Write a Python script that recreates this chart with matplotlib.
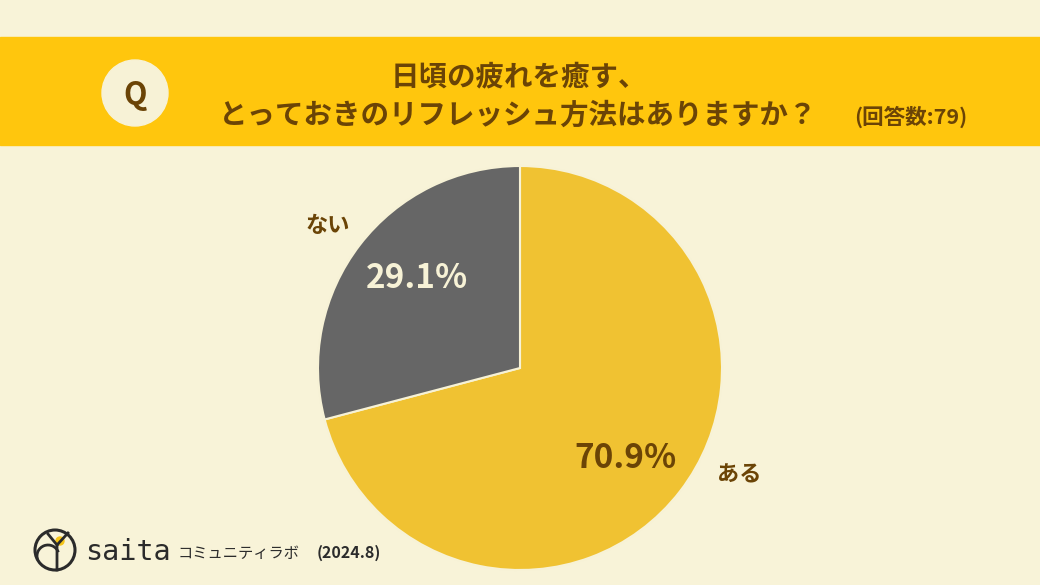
import matplotlib
matplotlib.use("Agg")
import matplotlib.pyplot as plt
from matplotlib.patches import Rectangle, Circle, Arc

plt.rcParams['font.family'] = ['Noto Sans CJK JP', 'DejaVu Sans']

labels = ["ある", "ない"]
values = [70.9, 29.1]
pct_labels = ["70.9%", "29.1%"]
colors = ["#F0C232", "#666666"]
title_line1 = "日頃の疲れを癒す、"
title_line2 = "とっておきのリフレッシュ方法はありますか？"
n_text = "(回答数:79)"

BG = "#F8F3D8"
BAND = "#FFC60D"
BROWN = "#6B4406"
CREAM = "#F7F2D6"

W, H = 1040, 585
fig = plt.figure(figsize=(W / 100, H / 100), dpi=100, facecolor=BG)
ax = fig.add_axes([0, 0, 1, 1])

def Y(y):
    return H - y

# pie
wedges, _ = ax.pie(values, colors=colors, startangle=90, counterclock=False,
                   center=(520, Y(368)), radius=202, frame=True,
                   wedgeprops=dict(edgecolor=CREAM, linewidth=1.5))
for w in wedges:
    w.set_zorder(2)
ax.set_xlim(0, W)
ax.set_ylim(0, H)
ax.set_aspect('equal')
ax.axis('off')

# header band
ax.add_patch(Rectangle((0, Y(145)), W, 108, color=BAND, zorder=1))
ax.add_patch(Circle((135, Y(93)), 33, color=CREAM, zorder=2))
ax.text(135, Y(95), "Q", ha='center', va='center', fontsize=22, fontweight='bold',
        color=BROWN, zorder=3)
ax.text(519, Y(77), title_line1, ha='center', va='center', fontsize=20.5,
        fontweight='bold', color=BROWN, zorder=3)
ax.text(518, Y(116), title_line2, ha='center', va='center', fontsize=20.5,
        fontweight='bold', color=BROWN, zorder=3)
ax.text(911, Y(117), n_text, ha='center', va='center', fontsize=15.5,
        fontweight='bold', color=BROWN, zorder=3)

ax.text(625, Y(459), pct_labels[0], ha='center', va='center', fontsize=24,
        fontweight='bold', color=BROWN, zorder=4)
ax.text(417, Y(278), pct_labels[1], ha='center', va='center', fontsize=24,
        fontweight='bold', color=CREAM, zorder=4)
ax.text(739, Y(475), labels[0], ha='center', va='center', fontsize=16,
        fontweight='bold', color=BROWN, zorder=4)
ax.text(328, Y(226), labels[1], ha='center', va='center', fontsize=16,
        fontweight='bold', color=BROWN, zorder=4)

# footer logo
LOGO = "#2B2B2B"
ax.add_patch(Circle((55, Y(550)), 20, fill=False, edgecolor=LOGO, linewidth=2.2, zorder=3))
ax.add_patch(Circle((60, Y(541)), 4, color="#F5C518", zorder=3))
ax.plot([57, 57, 68], [Y(570), Y(545), Y(533)], color=LOGO, linewidth=2, zorder=4)
ax.plot([57, 48], [Y(545), Y(534)], color=LOGO, linewidth=2, zorder=4)
ax.add_patch(Arc((48, Y(556)), 22, 22, theta1=20, theta2=200, edgecolor=LOGO, linewidth=2, zorder=4))
ax.text(85, Y(552), "saita", ha='left', va='center', fontsize=20.5, color=LOGO,
        family=['DejaVu Sans Mono'], zorder=4)
ax.text(178, Y(553), "コミュニティラボ", ha='left', va='center', fontsize=11,
        color=LOGO, zorder=4)
ax.text(317, Y(553), "(2024.8)", ha='left', va='center', fontsize=11.5,
        fontweight='bold', color=LOGO, zorder=4)

fig.savefig("out.png", dpi=100, facecolor=BG)
